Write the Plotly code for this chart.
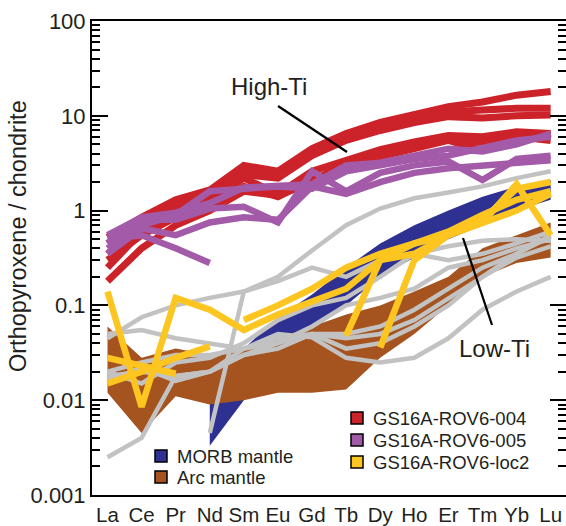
import plotly.graph_objects as go

elements = ["La", "Ce", "Pr", "Nd", "Sm", "Eu", "Gd", "Tb", "Dy", "Ho", "Er", "Tm", "Yb", "Lu"]
N = None

# GS16A-ROV6-004 (red)
red_1 = [0.52, 0.85, 1.3, 1.65, 3.0, 2.6, 4.5, 6.5, 8.5, 10.5, 12.5, 14.0, 16.5, 18.0]
red_2 = [0.45, 0.8, 1.15, 1.5, 2.6, 2.4, 4.0, 6.0, 7.8, 9.2, 11.0, 11.5, 12.0, 12.0]
red_3 = [0.35, 0.7, 1.0, 1.4, 2.4, 2.2, 3.8, 5.5, 7.0, 8.5, 9.8, 9.5, 10.0, 10.2]
red_4 = [0.3, 0.55, 0.85, 1.1, 1.8, 1.4, 2.1, 3.0, 4.0, 5.0, 5.8, 5.2, 6.5, 6.2]
red_5 = [0.18, 0.4, 0.7, 1.0, 1.6, 1.45, 2.0, 2.9, 3.7, 4.5, 5.5, 4.3, 6.0, 5.5]
red_6 = [0.25, 0.6, 0.9, 1.3, 2.2, 1.5, 2.6, 3.4, 4.4, 5.3, 6.2, 6.0, 6.8, 6.5]

# GS16A-ROV6-005 (purple)
pur_1 = [0.55, 0.85, 0.95, 1.2, 1.75, 1.85, 1.9, 3.0, 3.2, 3.8, 4.5, 4.2, 5.0, 6.5]
pur_2 = [0.45, 0.8, 0.8, 1.05, 1.1, 0.75, 2.6, 1.6, 2.5, 3.0, 3.3, 2.1, 3.5, 3.8]
pur_3 = [0.4, 0.7, 0.9, 1.6, 1.7, 1.8, 1.7, 2.6, 3.0, 3.5, 3.8, 4.5, 5.5, 6.0]
pur_4 = [0.35, 0.65, 0.55, 0.75, 0.85, 0.8, 1.8, 1.5, 2.0, 2.5, 2.8, 3.0, 3.2, 3.4]
pur_5 = [0.5, 0.55, 0.4, 0.28, N, N, N, N, N, N, N, N, N, N]

# GS16A-ROV6-loc2 (yellow)
yel_1 = [0.14, 0.0085, 0.12, 0.09, 0.055, 0.08, 0.11, 0.15, 0.3, 0.35, 0.55, 0.75, 1.9, 0.55]
yel_2 = [0.028, 0.023, 0.019, N, N, N, N, N, N, N, N, N, N, N]
yel_3 = [0.015, 0.02, 0.028, 0.037, N, N, N, N, N, N, N, N, N, N]
yel_4 = [N, N, N, N, N, N, N, 0.048, 0.3, 0.45, 0.6, 0.9, 1.3, 1.6]
yel_5 = [N, N, N, N, N, N, N, N, 0.036, 0.3, 0.55, 0.8, 1.7, 2.0]
yel_6 = [N, N, N, N, 0.07, 0.1, 0.15, 0.25, 0.35, 0.45, 0.55, 0.75, 1.0, 1.5]

# Literature (grey)
grey_1 = [0.045, 0.075, 0.1, 0.12, 0.14, 0.2, 0.38, 0.7, 1.05, 1.35, 1.55, 1.8, 2.2, 2.6]
grey_2 = [0.0025, 0.004, 0.018, 0.02, 0.03, 0.035, 0.05, 0.05, 0.06, 0.09, 0.15, 0.25, 0.35, 0.53]
grey_3 = [0.05, 0.055, 0.045, 0.04, 0.035, 0.045, 0.05, 0.045, 0.05, 0.07, 0.12, 0.2, 0.32, 0.42]
grey_4 = [0.02, 0.025, 0.03, 0.03, 0.035, 0.04, 0.05, 0.035, 0.04, 0.06, 0.1, 0.2, 0.35, 0.55]
grey_5 = [0.018, 0.02, 0.018, 0.02, 0.035, 0.05, 0.046, 0.028, 0.025, 0.028, 0.045, 0.09, 0.14, 0.2]
grey_6 = [0.016, 0.022, 0.016, 0.02, 0.03, 0.04, 0.06, 0.1, 0.12, 0.15, 0.25, 0.3, 0.4, 0.5]
grey_7 = [0.02, 0.015, 0.025, 0.028, 0.04, 0.07, 0.1, 0.12, 0.2, 0.35, 0.3, 0.35, 0.45, 0.6]
grey_8 = [N, N, N, 0.0045, 0.14, 0.18, 0.25, 0.2, 0.3, 0.35, 0.42, 0.48, 0.5, 0.48]

# MORB mantle field (Nd-Lu)
morb_upper = [0.014, 0.035, 0.075, 0.13, 0.25, 0.45, 0.7, 1.0, 1.4, 1.8, 2.1]
morb_lower = [0.0033, 0.010, 0.03, 0.055, 0.1, 0.2, 0.32, 0.5, 0.7, 1.0, 1.3]
# Arc mantle field (La-Lu)
arc_upper = [0.06, 0.028, 0.035, 0.03, 0.035, 0.045, 0.06, 0.08, 0.1, 0.14, 0.2, 0.4, 0.55, 0.75]
arc_lower = [0.012, 0.0045, 0.011, 0.009, 0.01, 0.012, 0.012, 0.013, 0.028, 0.05, 0.1, 0.2, 0.28, 0.32]

C_RED = "#cc2229"
C_PUR = "#a35aa8"
C_YEL = "#fdc51f"
C_BLUE = "#2e3192"
C_BROWN = "#a6541f"
C_GREY = "#c2c2c2"

xi = list(range(len(elements)))
fig = go.Figure()

morb_x = xi[3:]
fig.add_trace(go.Scatter(x=morb_x + morb_x[::-1], y=morb_upper + morb_lower[::-1], fill="toself",
                         fillcolor=C_BLUE, line=dict(width=0), mode="lines", hoverinfo="skip",
                         showlegend=False))
fig.add_trace(go.Scatter(x=xi + xi[::-1], y=arc_upper + arc_lower[::-1], fill="toself",
                         fillcolor=C_BROWN, line=dict(width=0), mode="lines", hoverinfo="skip",
                         showlegend=False))

def add_lines(series, color, width):
    for s in series:
        fig.add_trace(go.Scatter(x=xi, y=s, mode="lines", line=dict(color=color, width=width),
                                 connectgaps=False, showlegend=False, hoverinfo="skip"))

add_lines([grey_1, grey_2, grey_3, grey_4, grey_5, grey_6, grey_7, grey_8], C_GREY, 4.5)
add_lines([red_1, red_2, red_3, red_4, red_5, red_6], C_RED, 7)
add_lines([pur_1, pur_2, pur_3, pur_4, pur_5], C_PUR, 6.5)
add_lines([yel_1, yel_2, yel_3, yel_4, yel_5, yel_6], C_YEL, 6.5)

def px(x):
    return (x - 92) / 474.0

def py(y):
    return (495 - y) / 474.0

FONT = "Liberation Sans, Arial, sans-serif"
TXT = "#231f20"
shapes = []
annotations = []

legend_items = [
    (357, 418, C_RED, "GS16A-ROV6-004"),
    (357, 440, C_PUR, "GS16A-ROV6-005"),
    (357, 462, C_YEL, "GS16A-ROV6-loc2"),
    (161, 456, C_BLUE, "MORB mantle"),
    (161, 477, C_BROWN, "Arc mantle"),
]
for cx, cy, col, label in legend_items:
    shapes.append(dict(type="rect", xref="paper", yref="paper",
                       x0=px(cx - 6), x1=px(cx + 6), y0=py(cy + 6), y1=py(cy - 6),
                       fillcolor=col, line=dict(color="black", width=1.5)))
    annotations.append(dict(xref="paper", yref="paper", x=px(cx + 14), y=py(cy), text=label,
                            showarrow=False, xanchor="left", yanchor="middle",
                            font=dict(family=FONT, size=18.5, color=TXT)))

shapes.append(dict(type="line", xref="paper", yref="paper", x0=px(278), y0=py(106), x1=px(347), y1=py(152),
                   line=dict(color="black", width=2.2)))
shapes.append(dict(type="line", xref="paper", yref="paper", x0=px(463), y0=py(238), x1=px(492), y1=py(325),
                   line=dict(color="black", width=2.2)))
annotations.append(dict(xref="paper", yref="paper", x=px(269), y=py(87), text="High-Ti", showarrow=False,
                        xanchor="center", yanchor="middle", font=dict(family=FONT, size=24, color=TXT)))
annotations.append(dict(xref="paper", yref="paper", x=px(494), y=py(348), text="Low-Ti", showarrow=False,
                        xanchor="center", yanchor="middle", font=dict(family=FONT, size=24, color=TXT)))
annotations.append(dict(xref="paper", yref="paper", x=px(18), y=py(236), text="Orthopyroxene / chondrite",
                        showarrow=False, textangle=-90, xanchor="center", yanchor="middle",
                        font=dict(family=FONT, size=23.5, color=TXT)))

minor_vals = [m * 10 ** e for e in range(-3, 2) for m in range(2, 10)]

fig.update_layout(
    width=566, height=526,
    margin=dict(l=92, r=0, t=21, b=31),
    paper_bgcolor="white", plot_bgcolor="white",
    showlegend=False,
    shapes=shapes, annotations=annotations,
    xaxis=dict(range=[-0.455, 13.45], tickvals=xi, ticktext=elements, ticks="", tickangle=0,
               automargin=False, ticklabelstandoff=0,
               showgrid=False, zeroline=False, showline=True, linecolor="black", linewidth=2,
               mirror=True, tickfont=dict(family=FONT, size=20.5, color=TXT)),
    yaxis=dict(type="log", range=[-3, 2], tickvals=[0.001, 0.01, 0.1, 1, 10, 100],
               ticktext=["0.001", "0.01", "0.1", "1", "10", "100"], automargin=False,
               ticks="inside", ticklen=16, tickwidth=2, tickcolor="black",
               minor=dict(tickvals=minor_vals, ticks="inside", ticklen=8, tickwidth=1.5, tickcolor="black"),
               showgrid=False, zeroline=False, showline=True, linecolor="black", linewidth=2,
               mirror="ticks", tickfont=dict(family=FONT, size=22, color=TXT)),
)

fig.write_html("out.html")
